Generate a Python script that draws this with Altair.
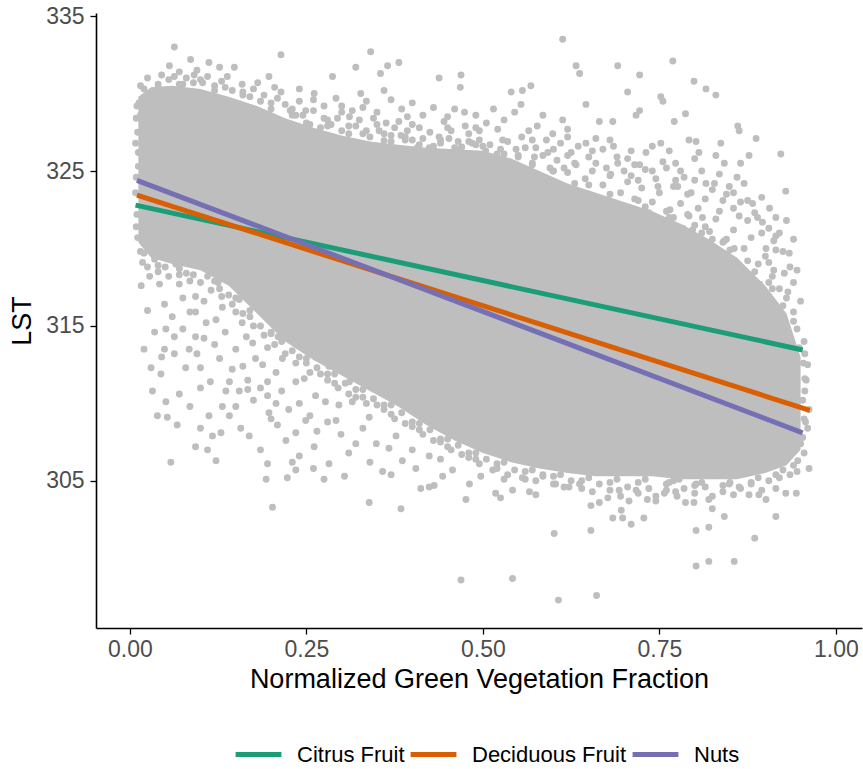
import altair as alt
import pandas as pd

# ---- regression fits per crop type (end points of each fitted line) ----
crops = ["Citrus Fruit", "Deciduous Fruit", "Nuts"]
crop_colors = ["#1b9e77", "#d95f02", "#7570b3"]
fit_x_start = [0.008, 0.010, 0.010]
fit_x_end = [0.953, 0.963, 0.953]
fit_y_start = [322.8, 323.45, 324.4]
fit_y_end = [313.45, 309.55, 308.1]

# ---- envelope of the densely overplotted core of the point cloud ----
core_x = [0.012, 0.03, 0.06, 0.10, 0.14, 0.18, 0.22, 0.26, 0.30, 0.34, 0.38, 0.42, 0.46,
          0.50, 0.54, 0.58, 0.62, 0.66, 0.70, 0.74, 0.78, 0.82, 0.86, 0.90, 0.93, 0.95]
core_upper = [329.8, 330.4, 330.5, 330.3, 329.8, 329.2, 328.4, 327.8, 327.3, 326.9, 326.7, 326.5, 326.4,
              326.3, 325.8, 325.0, 324.2, 323.6, 323.0, 322.4, 321.6, 320.6, 319.4, 317.6, 315.8, 313.0]
core_lower = [320.4, 319.4, 319.0, 318.6, 317.6, 315.8, 314.0, 312.8, 311.8, 310.8, 309.8, 308.6, 307.6,
              306.8, 306.2, 305.8, 305.5, 305.3, 305.3, 305.3, 305.1, 305.1, 305.1, 305.5, 306.0, 307.0]

# ---- individual pixels (NGVF, LST) around the core ----
upper_left_pts = [
    (0.063, 333.0), (0.056, 331.8), (0.086, 332.2), (0.112, 332.0), (0.127, 331.7), (0.148, 331.7),
    (0.063, 331.1), (0.091, 331.2), (0.103, 330.7), (0.138, 331.1), (0.159, 330.6), (0.181, 330.7),
    (0.197, 331.1), (0.214, 332.5), (0.261, 330.0), (0.287, 331.1), (0.292, 329.7), (0.320, 331.7),
    (0.327, 330.0), (0.330, 329.1), (0.341, 332.7), (0.355, 331.3), (0.365, 331.8), (0.381, 332.0),
    (0.360, 330.2), (0.311, 328.5), (0.294, 328.4), (0.249, 328.9), (0.227, 328.9), (0.209, 329.7),
    (0.214, 330.1), (0.438, 331.0), (0.469, 331.2), (0.468, 330.4), (0.474, 328.8), (0.490, 327.8),
    (0.450, 328.5), (0.450, 327.8), (0.393, 328.5), (0.381, 328.2), (0.393, 327.6), (0.363, 328.1),
    (0.353, 327.6), (0.384, 327.3), (0.370, 327.3), (0.438, 327.2), (0.452, 327.1), (0.424, 326.5),
    (0.407, 326.5), (0.464, 326.4), (0.485, 326.8), (0.476, 325.9), (0.027, 329.8), (0.013, 329.4),
    (0.032, 329.9), (0.049, 329.7), (0.200, 329.4), (0.235, 328.6), (0.255, 328.0), (0.270, 327.8),
    (0.300, 327.6), (0.320, 327.9), (0.340, 327.2), (0.370, 326.9), (0.400, 327.0), (0.430, 326.6),
    (0.460, 326.5), (0.480, 326.9), (0.500, 326.6), (0.520, 326.1), (0.280, 328.3), (0.240, 329.5),
    (0.345, 328.4), (0.410, 327.8), (0.075, 330.6), (0.100, 330.9), (0.120, 330.5), (0.145, 330.2),
    (0.170, 329.8), (0.185, 329.5), (0.040, 330.4), (0.015, 328.6), (0.011, 327.5), (0.012, 326.2),
    (0.012, 325.3), (0.010, 322.2),
    (0.300, 329.2), (0.315, 328.9), (0.335, 329.5), (0.350, 328.8), (0.370, 329.6), (0.385, 329.0),
    (0.400, 329.4), (0.415, 328.6), (0.430, 329.1), (0.445, 328.2), (0.460, 329.0), (0.475, 327.9),
    (0.490, 328.6), (0.505, 328.1), (0.515, 329.0), (0.530, 328.3), (0.545, 328.8), (0.260, 329.6),
    (0.275, 329.2), (0.240, 330.3),
]

upper_edge_pts = [
    (0.015, 330.5), (0.025, 331.0), (0.045, 331.2), (0.055, 330.9), (0.070, 331.4), (0.080, 331.0),
    (0.095, 331.5), (0.110, 331.1), (0.130, 330.8), (0.135, 330.4), (0.160, 330.1), (0.175, 330.3),
    (0.190, 329.9), (0.205, 330.4), (0.220, 329.3), (0.230, 329.0), (0.245, 328.6), (0.260, 328.9),
    (0.275, 328.4), (0.285, 328.0), (0.300, 328.8), (0.310, 327.9), (0.325, 328.3), (0.335, 327.6),
    (0.350, 328.0), (0.360, 327.4), (0.375, 327.8), (0.390, 327.2), (0.400, 328.0), (0.415, 327.1),
    (0.425, 327.5), (0.440, 327.0), (0.455, 327.6), (0.465, 326.9), (0.480, 327.4), (0.495, 327.0),
    (0.510, 326.7), (0.525, 326.4), (0.535, 326.9), (0.550, 325.9), (0.560, 326.5), (0.570, 325.5),
    (0.585, 326.0), (0.595, 325.2), (0.605, 325.7), (0.620, 324.9), (0.630, 325.5), (0.645, 324.5),
    (0.655, 325.0), (0.670, 324.1), (0.680, 324.7), (0.695, 323.6), (0.705, 324.3), (0.715, 323.2),
    (0.725, 323.9), (0.740, 323.0), (0.750, 323.6), (0.765, 322.5), (0.780, 322.9), (0.790, 322.2),
    (0.805, 322.6), (0.815, 321.4), (0.830, 321.9), (0.845, 320.6), (0.855, 321.2), (0.870, 320.0),
    (0.880, 320.7), (0.890, 319.0), (0.900, 319.5), (0.910, 318.2), (0.920, 317.4), (0.930, 316.8),
    (0.940, 315.9), (0.945, 314.8), (0.955, 314.0), (0.960, 312.5), (0.958, 311.5), (0.962, 309.6),
    (0.960, 308.4), (0.955, 306.8),
    (0.570, 327.0), (0.600, 326.4), (0.625, 326.2), (0.650, 325.9), (0.670, 326.4), (0.690, 325.9),
    (0.715, 325.4), (0.740, 325.0), (0.760, 325.2), (0.785, 324.6), (0.810, 325.0), (0.835, 324.8),
    (0.855, 323.6), (0.870, 324.2), (0.895, 323.3), (0.915, 322.0), (0.920, 321.0), (0.940, 320.6),
    (0.945, 318.6), (0.950, 316.6),
]

# pixels sitting right on the rim of the dense core
rim_pts = [
    (0.020, 330.3), (0.040, 330.6), (0.070, 330.6), (0.090, 330.7), (0.120, 330.2), (0.160, 329.9),
    (0.200, 329.0), (0.230, 328.6), (0.250, 328.1), (0.280, 327.9), (0.310, 327.4), (0.330, 327.4),
    (0.360, 326.95), (0.390, 327.0), (0.410, 326.7), (0.440, 326.8), (0.470, 326.55), (0.490, 326.7),
    (0.530, 326.1), (0.550, 326.0), (0.570, 325.4), (0.600, 325.0), (0.630, 324.2), (0.650, 324.1),
    (0.680, 323.5), (0.720, 323.1), (0.730, 322.7), (0.760, 322.4), (0.770, 322.0), (0.800, 321.5),
    (0.810, 321.0), (0.840, 320.4), (0.850, 319.9), (0.875, 319.2), (0.885, 318.5), (0.910, 317.4),
    (0.925, 316.3), (0.940, 315.3), (0.948, 313.6),
    (0.020, 319.7), (0.040, 318.9), (0.070, 318.7), (0.090, 318.3), (0.120, 317.9), (0.150, 316.8),
    (0.170, 316.0), (0.200, 314.5), (0.210, 314.3), (0.240, 313.0), (0.250, 312.9), (0.280, 311.9),
    (0.290, 311.9), (0.320, 310.9), (0.330, 310.9), (0.360, 309.9), (0.370, 309.9), (0.400, 308.8),
    (0.410, 308.7), (0.440, 307.7), (0.450, 307.7), (0.480, 306.8), (0.490, 306.8), (0.520, 306.1),
    (0.530, 306.2), (0.560, 305.6), (0.570, 305.7), (0.600, 305.3), (0.610, 305.4), (0.640, 305.0),
    (0.650, 305.2), (0.680, 304.9), (0.690, 305.1), (0.720, 304.9), (0.730, 305.1), (0.760, 304.8),
    (0.770, 305.0), (0.800, 304.7), (0.810, 304.9), (0.840, 304.7), (0.850, 304.9), (0.880, 304.9),
    (0.890, 305.2), (0.915, 305.4), (0.925, 305.7), (0.940, 306.0),
    (0.953, 307.8), (0.955, 309.0), (0.953, 310.2), (0.956, 311.6), (0.954, 312.6),
    (0.009, 321.4), (0.008, 323.6), (0.009, 324.6), (0.008, 326.8), (0.009, 328.4), (0.010, 329.2),
]

lower_left_pts = [
    (0.011, 320.7), (0.018, 319.1), (0.016, 317.6), (0.042, 317.7), (0.049, 316.4), (0.051, 314.8),
    (0.063, 314.3), (0.049, 313.5), (0.063, 313.2), (0.044, 311.9), (0.079, 312.3), (0.100, 312.3),
    (0.084, 313.5), (0.093, 314.3), (0.105, 314.2), (0.108, 315.2), (0.032, 310.8), (0.051, 310.1),
    (0.039, 309.2), (0.053, 309.1), (0.067, 308.6), (0.058, 306.2), (0.093, 307.2), (0.110, 307.0),
    (0.122, 306.3), (0.117, 307.9), (0.129, 308.1), (0.112, 309.2), (0.131, 309.8), (0.141, 309.2),
    (0.114, 311.4), (0.127, 312.9), (0.141, 311.4), (0.136, 310.8), (0.155, 310.8), (0.167, 310.9),
    (0.150, 313.5), (0.167, 311.5), (0.178, 312.9), (0.188, 312.5), (0.195, 311.4), (0.207, 312.0),
    (0.195, 310.5), (0.207, 310.0), (0.197, 309.4), (0.209, 308.6), (0.157, 308.4), (0.169, 307.9),
    (0.195, 306.1), (0.193, 305.1), (0.202, 303.3), (0.223, 305.2), (0.235, 305.7), (0.221, 307.6),
    (0.235, 308.1), (0.249, 308.9), (0.240, 306.6), (0.261, 307.2), (0.275, 305.1), (0.282, 306.1),
    (0.299, 308.0), (0.304, 305.3), (0.320, 307.4), (0.339, 303.6), (0.358, 305.6), (0.384, 303.2),
    (0.412, 304.5), (0.424, 304.6), (0.431, 304.7), (0.476, 303.8), (0.469, 298.6), (0.481, 304.8),
    (0.443, 305.3), (0.405, 305.8), (0.457, 305.7), (0.093, 316.9), (0.093, 315.9), (0.127, 317.4),
    (0.131, 316.2), (0.122, 315.4), (0.150, 315.9), (0.159, 315.2), (0.070, 318.7), (0.070, 317.7),
    (0.235, 311.4), (0.247, 311.6), (0.263, 310.5), (0.277, 310.1), (0.296, 309.9), (0.315, 310.1),
    (0.292, 308.9), (0.330, 308.4), (0.339, 309.1), (0.349, 307.4), (0.367, 307.1), (0.377, 307.9),
    (0.386, 306.3), (0.424, 306.6), (0.311, 311.4), (0.282, 312.4), (0.216, 312.9), (0.174, 313.9),
    (0.020, 320.3), (0.035, 319.3), (0.050, 318.8), (0.065, 319.0), (0.080, 318.4), (0.110, 318.2),
    (0.125, 317.8), (0.140, 317.0), (0.155, 316.7), (0.170, 315.6), (0.185, 315.0), (0.200, 314.6),
    (0.215, 314.0), (0.230, 313.4), (0.028, 318.2), (0.075, 316.8), (0.105, 316.6), (0.165, 314.3),
    (0.195, 313.6), (0.250, 312.6), (0.270, 311.9), (0.290, 311.3), (0.310, 310.6), (0.330, 310.4),
    (0.350, 309.9), (0.370, 309.3), (0.390, 308.7), (0.410, 308.3), (0.430, 307.6), (0.450, 307.2),
    (0.470, 306.7), (0.490, 306.4),
    (0.025, 316.0), (0.035, 314.6), (0.045, 313.0), (0.060, 315.6), (0.075, 314.8), (0.085, 315.9),
    (0.095, 313.2), (0.100, 311.0), (0.120, 313.8), (0.135, 314.6), (0.145, 312.2), (0.160, 312.4),
    (0.175, 310.2), (0.185, 311.0), (0.200, 309.0), (0.215, 310.8), (0.225, 309.6), (0.240, 310.0),
    (0.255, 309.2), (0.265, 308.2), (0.280, 308.8), (0.070, 310.6), (0.085, 309.8), (0.100, 308.4),
    (0.150, 309.8), (0.185, 307.0), (0.230, 306.2), (0.260, 305.8), (0.310, 306.8), (0.340, 306.2),
    (0.370, 305.4), (0.400, 307.0), (0.440, 306.4), (0.020, 313.5), (0.030, 312.3),
]

lower_edge_pts = [
    (0.015, 319.8), (0.025, 318.8), (0.040, 318.5), (0.055, 318.2), (0.070, 318.3), (0.085, 317.9),
    (0.100, 317.8), (0.115, 317.3), (0.130, 316.9), (0.145, 316.4), (0.160, 315.8), (0.175, 315.0),
    (0.190, 314.4), (0.205, 313.8), (0.220, 313.2), (0.235, 312.6), (0.255, 312.0), (0.265, 312.3),
    (0.280, 311.5), (0.295, 311.0), (0.305, 311.3), (0.320, 310.4), (0.335, 310.0), (0.345, 310.3),
    (0.360, 309.6), (0.375, 309.0), (0.385, 309.4), (0.400, 308.5), (0.415, 308.0), (0.425, 308.3),
    (0.440, 307.5), (0.455, 307.0), (0.465, 307.3), (0.480, 306.5), (0.495, 306.1), (0.505, 306.4),
    (0.520, 305.8), (0.535, 305.4), (0.545, 305.7), (0.560, 305.1), (0.575, 305.0), (0.585, 305.4),
    (0.600, 304.8), (0.615, 304.6), (0.625, 305.0), (0.640, 304.5), (0.655, 304.3), (0.665, 304.8),
    (0.680, 304.4), (0.695, 304.0), (0.705, 304.6), (0.720, 304.2), (0.735, 304.5), (0.745, 304.0),
    (0.760, 304.4), (0.775, 304.0), (0.785, 304.5), (0.800, 304.2), (0.815, 304.6), (0.825, 304.0),
    (0.840, 304.3), (0.855, 304.1), (0.865, 304.5), (0.880, 304.8), (0.895, 304.4), (0.905, 305.0),
    (0.920, 305.2), (0.935, 305.4), (0.945, 305.6),
]

upper_right_pts = [
    (0.613, 333.5), (0.632, 331.8), (0.637, 331.3), (0.691, 331.8), (0.722, 331.2), (0.769, 332.1),
    (0.799, 330.8), (0.816, 330.3), (0.830, 329.9), (0.752, 329.8), (0.755, 329.5), (0.705, 330.1),
    (0.722, 328.9), (0.717, 328.6), (0.540, 330.1), (0.556, 330.2), (0.568, 330.5), (0.554, 329.3),
    (0.646, 329.3), (0.585, 328.6), (0.577, 327.9), (0.565, 327.6), (0.599, 327.4), (0.613, 328.3),
    (0.620, 327.7), (0.665, 328.2), (0.684, 328.2), (0.660, 327.1), (0.646, 326.8), (0.771, 328.2),
    (0.787, 328.7), (0.861, 327.9), (0.863, 327.6), (0.887, 327.1), (0.922, 326.1), (0.929, 323.7),
    (0.837, 326.8), (0.877, 326.0), (0.830, 326.0), (0.842, 325.5), (0.865, 325.5), (0.802, 326.9),
    (0.792, 327.0), (0.806, 326.2), (0.764, 326.3), (0.773, 325.5), (0.710, 326.3), (0.731, 326.2),
    (0.752, 326.8), (0.722, 325.4), (0.691, 325.5), (0.681, 324.8), (0.710, 324.7), (0.748, 324.0),
    (0.773, 324.4), (0.776, 324.0), (0.795, 323.6), (0.816, 324.2), (0.828, 324.2), (0.849, 324.0),
    (0.840, 323.1), (0.875, 323.1), (0.882, 322.9), (0.906, 322.6), (0.863, 322.1), (0.889, 322.0),
    (0.896, 321.7), (0.912, 320.5), (0.934, 319.7), (0.901, 320.0), (0.915, 319.9), (0.927, 318.4),
    (0.932, 317.2), (0.905, 319.1), (0.912, 318.6), (0.892, 317.7), (0.905, 317.8), (0.889, 317.2),
    (0.856, 320.0), (0.842, 320.5), (0.825, 320.6), (0.828, 320.0), (0.811, 322.0), (0.821, 321.1),
    (0.792, 322.1), (0.783, 321.3), (0.797, 321.2), (0.764, 322.0), (0.752, 321.1), (0.768, 320.6),
    (0.735, 322.3), (0.726, 321.4), (0.698, 322.1), (0.705, 321.4), (0.688, 321.2), (0.677, 322.0),
    (0.660, 322.8), (0.653, 321.8), (0.665, 321.0), (0.632, 322.8), (0.620, 323.4), (0.603, 323.9),
    (0.585, 324.5), (0.599, 325.0), (0.615, 325.2), (0.632, 325.4), (0.592, 326.2), (0.573, 325.9),
    (0.547, 326.4), (0.528, 327.0), (0.521, 327.7), (0.504, 326.3), (0.514, 325.0), (0.495, 327.6),
    (0.555, 327.2), (0.575, 326.5), (0.590, 327.0), (0.610, 326.8), (0.620, 326.0), (0.635, 326.6),
    (0.655, 326.3), (0.660, 325.5), (0.675, 325.2), (0.685, 326.6), (0.700, 325.0), (0.705, 325.8),
    (0.720, 324.4), (0.730, 325.1), (0.745, 324.5), (0.755, 325.6), (0.770, 324.0), (0.780, 325.0),
    (0.790, 323.5), (0.800, 324.4), (0.815, 323.2), (0.825, 323.8), (0.835, 322.4), (0.845, 323.5),
    (0.855, 322.6), (0.865, 323.0), (0.875, 321.8), (0.885, 322.3), (0.895, 321.0), (0.905, 321.3),
    (0.915, 320.8), (0.925, 319.8), (0.935, 318.8), (0.940, 317.8), (0.930, 321.8), (0.620, 327.2),
    (0.680, 327.0), (0.740, 326.6), (0.800, 325.8), (0.860, 324.6),
]

lower_right_pts = [
    (0.925, 314.2), (0.934, 313.2), (0.956, 313.2), (0.956, 310.8), (0.957, 308.8), (0.962, 305.8),
    (0.946, 306.3), (0.950, 307.4), (0.932, 307.4), (0.944, 304.2), (0.929, 304.2), (0.915, 304.5),
    (0.901, 303.8), (0.891, 304.1), (0.877, 304.1), (0.915, 302.7), (0.885, 301.3), (0.856, 299.8),
    (0.820, 299.8), (0.802, 299.5), (0.820, 302.0), (0.802, 301.8), (0.842, 302.7), (0.825, 303.2),
    (0.820, 303.8), (0.787, 303.6), (0.799, 303.6), (0.773, 304.3), (0.757, 304.2), (0.745, 303.7),
    (0.728, 302.6), (0.710, 302.2), (0.698, 302.6), (0.684, 302.6), (0.696, 303.1), (0.707, 303.7),
    (0.733, 303.8), (0.677, 303.9), (0.665, 303.6), (0.653, 303.4), (0.653, 301.8), (0.601, 301.6),
    (0.542, 298.7), (0.607, 297.3), (0.661, 297.6), (0.622, 304.6), (0.603, 304.8), (0.575, 304.1),
    (0.566, 304.3), (0.542, 304.4), (0.525, 303.9), (0.518, 304.2), (0.497, 305.3), (0.514, 305.7),
    (0.530, 305.1), (0.556, 305.2), (0.585, 305.3), (0.637, 304.8), (0.693, 304.4), (0.717, 304.4),
    (0.764, 304.9), (0.778, 305.1), (0.802, 304.8), (0.849, 304.8), (0.863, 304.6),
]

# ---- assemble tables ----
points = (upper_left_pts + upper_edge_pts + rim_pts + lower_left_pts + lower_edge_pts
          + upper_right_pts + lower_right_pts)
points_df = pd.DataFrame(points, columns=["ngvf", "lst"])
core_df = pd.DataFrame({"ngvf": core_x, "lst": core_upper, "lst_lo": core_lower})

fit_rows = []
for name, x0, x1, y0, y1 in zip(crops, fit_x_start, fit_x_end, fit_y_start, fit_y_end):
    fit_rows.append({"crop": name, "ngvf": x0, "lst": y0, "order": 0})
    fit_rows.append({"crop": name, "ngvf": x1, "lst": y1, "order": 1})
fits_df = pd.DataFrame(fit_rows)

FONT = "Liberation Sans"
POINT_GREY = "#bebebe"

x_scale = alt.Scale(domain=[-0.048, 1.037], nice=False, zero=False)
y_scale = alt.Scale(domain=[295.5, 335.2], nice=False, zero=False)

x_axis = alt.Axis(
    values=[0, 0.25, 0.5, 0.75, 1.0], format=".2f", grid=False,
    domainColor="black", domainWidth=1.6, tickColor="black", tickWidth=1.3, tickSize=6,
    labelColor="#4d4d4d", labelFont=FONT, labelFontSize=23, labelPadding=4,
    title="Normalized Green Vegetation Fraction", titleFont=FONT, titleFontSize=27,
    titleFontWeight="normal", titleColor="black", titlePadding=5,
)
y_axis = alt.Axis(
    values=[305, 315, 325, 335], grid=False,
    domainColor="black", domainWidth=1.6, tickColor="black", tickWidth=1.3, tickSize=6,
    labelColor="#4d4d4d", labelFont=FONT, labelFontSize=23, labelPadding=6,
    title="LST", titleFont=FONT, titleFontSize=27, titleFontWeight="normal",
    titleColor="black", titlePadding=9,
)

core = alt.Chart(core_df).mark_area(color=POINT_GREY, opacity=1).encode(
    x=alt.X("ngvf:Q", scale=x_scale, axis=x_axis),
    y=alt.Y("lst:Q", scale=y_scale, axis=y_axis),
    y2="lst_lo:Q",
)

scatter = alt.Chart(points_df).mark_circle(color=POINT_GREY, opacity=1, size=48).encode(
    x=alt.X("ngvf:Q", scale=x_scale),
    y=alt.Y("lst:Q", scale=y_scale),
)

fits = alt.Chart(fits_df).mark_line(strokeWidth=5).encode(
    x=alt.X("ngvf:Q", scale=x_scale),
    y=alt.Y("lst:Q", scale=y_scale),
    order="order:Q",
    color=alt.Color(
        "crop:N",
        scale=alt.Scale(domain=crops, range=crop_colors),
        legend=alt.Legend(
            title=None, orient="none", direction="horizontal",
            legendX=137, legendY=716, padding=0, gridAlign="none",
            symbolType="stroke", symbolSize=2100, symbolStrokeWidth=5,
            labelFont=FONT, labelFontSize=22, labelColor="black", labelLimit=0,
            labelOffset=13, columnPadding=-5,
        ),
    ),
)

chart = alt.layer(core, scatter, fits).properties(
    width=766, height=615,
    autosize="none",
    background="white",
    padding={"left": 96, "top": 13, "right": 1, "bottom": 141},
).configure_view(stroke=None)

chart.save("out.html", embed_options={"renderer": "svg", "actions": False})
